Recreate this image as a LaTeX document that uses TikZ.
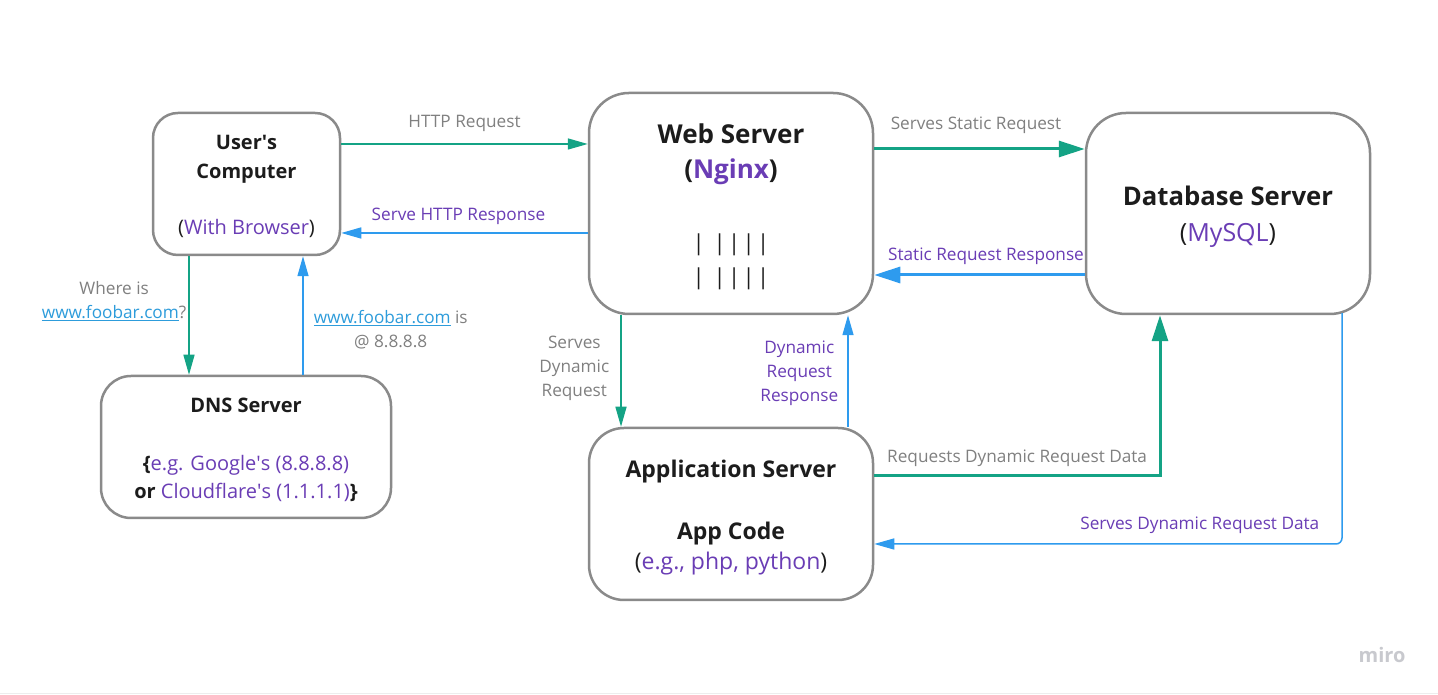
\documentclass[tikz,border=0pt]{standalone}
\usepackage{fontspec}
\setmainfont{Open Sans}
\usetikzlibrary{positioning, arrows.meta}
\definecolor{boxgray}{HTML}{8A8A8A}
\definecolor{reqgreen}{HTML}{14A385}
\definecolor{respblue}{HTML}{2E9BEE}
\definecolor{txtpurple}{HTML}{6A3DB5}
\definecolor{lblgray}{HTML}{808080}
\definecolor{linkblue}{HTML}{2D9CDB}
\definecolor{titleblack}{HTML}{1C1C1C}
\definecolor{mirogray}{HTML}{C8C9CE}
\newcommand{\weblink}[1]{\textcolor{linkblue}{\underline{#1}}}
\newcommand{\sq}{\textquotesingle}
\newcommand{\topstrut}{\rule{0pt}{1em}}
\newcommand{\pipes}{\makebox[14.5pt]{|}\hspace{6.5pt}\makebox[14.5pt]{|}\makebox[14.5pt]{|}\makebox[14.5pt]{|}\makebox[14.5pt]{|}}

\tikzset{
  server/.style={draw=boxgray, line width=2.5pt, rounded corners=#1, fill=white, align=center, text=titleblack, inner sep=0pt},
  server/.default=35pt,
  req/.style={draw=reqgreen, line width=1.5pt, -{Triangle[length=20pt, width=11pt]}},
  reqbold/.style={req, line width=3pt, -{Triangle[length=26pt, width=16pt]}},
  resp/.style={draw=respblue, line width=1.5pt, -{Triangle[length=20pt, width=11pt]}},
  respbold/.style={resp, line width=3pt, -{Triangle[length=26pt, width=16pt]}},
  lbl/.style={font=\fontsize{17.2}{24}\selectfont, text=lblgray, align=center, inner sep=1pt},
  lblp/.style={lbl, text=txtpurple},
}

\begin{document}
\begin{tikzpicture}[x=1pt, y=1pt]
    \useasboundingbox (0,0) rectangle (1438,695);
    \fill[white] (0,0) rectangle (1438,695);
    \draw[line width=1pt, draw=black!7] (0,1.5) -- (1438,1.5);

    \node[server=25pt, minimum width=187pt, minimum height=142pt, font=\fontsize{20}{29}\selectfont] (user) at (246.5,511)
        {\topstrut\textbf{User\sq s}\\\textbf{Computer}\\[27pt](\textcolor{txtpurple}{With Browser})};
    \node[server=40pt, minimum width=284pt, minimum height=221pt, font=\fontsize{26}{35}\selectfont] (web) at (731,491.5)
        {\topstrut\textbf{Web Server}\\\textbf{(\textcolor{txtpurple}{Nginx})}\\[37pt]{\fontsize{22}{22}\selectfont\pipes}\\[-1pt]{\fontsize{22}{22}\selectfont\pipes}};
    \node[server=40pt, minimum width=284pt, minimum height=201pt, font=\fontsize{25.7}{36}\selectfont] (db) at (1228,481.5)
        {\topstrut\textbf{Database Server}\\{\fontsize{25}{36}\selectfont(\textcolor{txtpurple}{MySQL})}};
    \node[server=30pt, minimum width=290pt, minimum height=142pt, font=\fontsize{20}{28}\selectfont] (dns) at (246,248)
        {\topstrut\textbf{DNS Server}\\[30pt]\textbf{\{}\textcolor{txtpurple}{e.g. Google\sq s (8.8.8.8)}\\\textbf{or} \textcolor{txtpurple}{Cloudflare\sq s (1.1.1.1)}\textbf{\}}};
    \node[server=35pt, minimum width=284pt, minimum height=172pt, font=\fontsize{23}{30}\selectfont] (app) at (731,181)
        {\rule{0pt}{1.1em}\textbf{Application Server}\\[32pt]\textbf{App Code}\\(\textcolor{txtpurple}{e.g., php, python})};
    \node[font=\fontsize{20}{20}\selectfont\bfseries, text=mirogray] (miro) at (1382,40) {miro};

    % browser <-> web server
    \draw[req] ([yshift=40pt]user.east) -- ([yshift=59.5pt]web.west) node[lbl, midway, above=10.5pt] {HTTP Request};
    \draw[resp] ([yshift=-29.5pt]web.west) -- ([yshift=-49pt]user.east) node[lblp, midway, above=7pt, xshift=-6pt] {Serve HTTP Response};

    % web server <-> database
    \draw[reqbold] ([yshift=54.5pt]web.east) -- ([yshift=64.5pt]db.west) node[lbl, midway, above=13pt, xshift=-3.5pt] {Serves Static Request};
    \draw[respbold] ([yshift=-61.5pt]db.west) -- ([yshift=-71.5pt]web.east) node[lblp, midway, above=8pt, xshift=6.5pt] {Static Request Response};

    % dns lookup
    \draw[req] ([xshift=-57.5pt]user.south) -- ([xshift=-57pt]dns.north) node[lbl, pos=0.38, left=1pt] {Where is\\\weblink{www.foobar.com}?};
    \draw[resp] ([xshift=57pt]dns.north) -- ([xshift=56.5pt]user.south) node[lbl, pos=0.38, right=9pt] {\weblink{www.foobar.com} is\\@ 8.8.8.8};

    % web server <-> application server
    \draw[req] ([xshift=-110pt]web.south) -- ([xshift=-110pt]app.north) node[lbl, pos=0.474, left=10pt] {Serves\\Dynamic\\Request};
    \draw[resp] ([xshift=117pt]app.north) -- ([xshift=117pt]web.south) node[lblp, pos=0.478, left=8pt] {Dynamic\\Request\\Response};

    % application server <-> database
    \draw[reqbold] ([yshift=38pt]app.east) -| ([xshift=-68pt]db.south) node[lbl, pos=0.25, above=6.5pt] {Requests Dynamic Request Data};
    \draw[resp, rounded corners=6pt] ([xshift=114pt, yshift=2pt]db.south) |- ([yshift=-30pt]app.east) node[lblp, pos=0.652, above=8.5pt] {Serves Dynamic Request Data};
\end{tikzpicture}
\end{document}
